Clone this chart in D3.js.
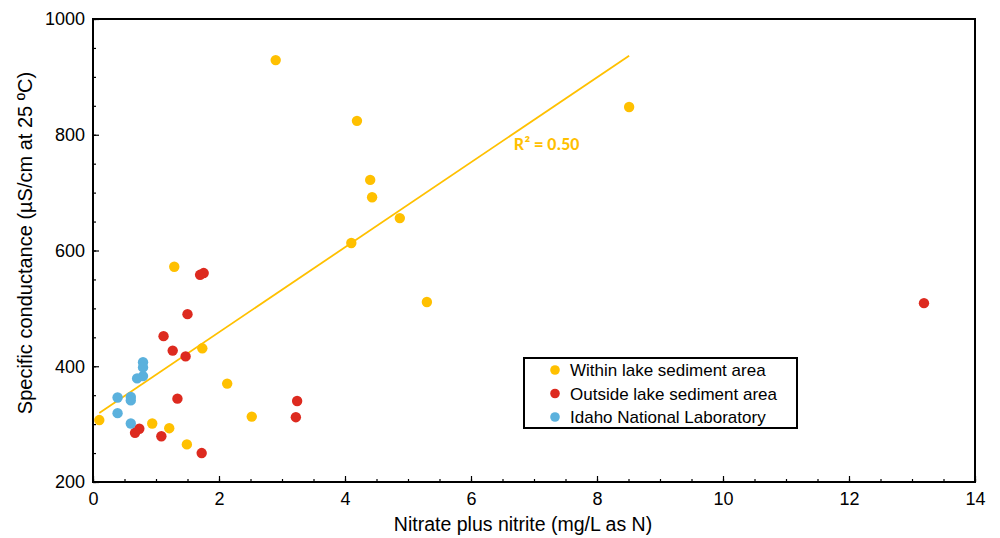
<!DOCTYPE html>
<html><head><meta charset="utf-8">
<script src="https://cdn.jsdelivr.net/npm/d3@7"></script>
<style>body{margin:0;background:#fff}svg{display:block}</style>
</head><body>
<script>
const xTicks=[0,2,4,6,8,10,12,14];
const yTicks=[200,400,600,800,1000];
const seriesNames=["Within lake sediment area","Outside lake sediment area","Idaho National Laboratory"];
const seriesColors=["#FFC000","#DD2A1F","#5BB1DD"];
const withinX=[0.1,2.9,4.19,4.4,4.43,4.87,4.1,8.51,5.3,1.29,1.735,2.13,2.52,0.94,1.21,1.49];
const withinY=[307,929,824,722,692,656,613,848,511,572,431,370,313,301,293,265];
const outsideX=[1.70,1.757,1.50,1.12,1.265,1.47,1.34,0.735,0.667,1.085,1.725,3.24,3.22,13.19];
const outsideY=[558,561,490,452,427,417,344,292,285,279,250,340,312,509];
const inlX=[0.794,0.794,0.794,0.70,0.39,0.60,0.60,0.39,0.60];
const inlY=[407,398,383,379,346,347,341,319,301];
const trendSlope=73.4, trendIntercept=312, trendXRange=[0.1,8.51];
const r2Label="R² = 0.50";

const W=1000,H=538;
const m={l:93,r:25,t:19,b:56};
const svg=d3.select("body").append("svg").attr("width",W).attr("height",H);
const x=d3.scaleLinear().domain([0,14]).range([m.l,W-m.r]);
const y=d3.scaleLinear().domain([200,1000]).range([H-m.b,m.t]);
const font="Liberation Sans, Arial, sans-serif";

// axes with inward ticks
const gx=svg.append("g").attr("transform",`translate(0,${H-m.b})`)
  .call(d3.axisBottom(x).tickValues(d3.range(0,14.01,0.5)).tickSize(-3).tickFormat(""));
gx.call(g=>g.select(".domain").remove());
gx.selectAll("line").attr("stroke","#000").attr("stroke-width",1.2);
const gx2=svg.append("g").attr("transform",`translate(0,${H-m.b})`)
  .call(d3.axisBottom(x).tickValues(xTicks).tickSize(-6).tickPadding(10).tickFormat(d3.format("d")));
gx2.select(".domain").remove();
gx2.selectAll("line").attr("stroke","#000").attr("stroke-width",1.2);
gx2.selectAll("text").attr("font-family",font).attr("font-size",18).attr("fill","#000");

const gy=svg.append("g").attr("transform",`translate(${m.l},0)`)
  .call(d3.axisLeft(y).tickValues(d3.range(200,1000.1,50)).tickSize(-3).tickFormat(""));
gy.select(".domain").remove();
gy.selectAll("line").attr("stroke","#000").attr("stroke-width",1.2);
const gy2=svg.append("g").attr("transform",`translate(${m.l},0)`)
  .call(d3.axisLeft(y).tickValues(yTicks).tickSize(-6).tickPadding(8).tickFormat(d3.format("d")));
gy2.select(".domain").remove();
gy2.selectAll("line").attr("stroke","#000").attr("stroke-width",1.2);
gy2.selectAll("text").attr("font-family",font).attr("font-size",18).attr("fill","#000");

// frame
svg.append("rect").attr("x",m.l).attr("y",m.t).attr("width",W-m.r-m.l).attr("height",H-m.b-m.t)
  .attr("fill","none").attr("stroke","#000").attr("stroke-width",2);

// trend line
svg.append("line")
  .attr("x1",x(trendXRange[0])).attr("y1",y(trendIntercept+trendSlope*trendXRange[0]))
  .attr("x2",x(trendXRange[1])).attr("y2",y(trendIntercept+trendSlope*trendXRange[1]))
  .attr("stroke",seriesColors[0]).attr("stroke-width",1.8);

const series=[[withinX,withinY],[outsideX,outsideY],[inlX,inlY]];
series.forEach(([xs,ys],i)=>{
  svg.append("g").selectAll("circle").data(xs.map((v,j)=>[v,ys[j]])).join("circle")
    .attr("cx",d=>x(d[0])).attr("cy",d=>y(d[1])).attr("r",5.2).attr("fill",seriesColors[i]);
});

svg.append("text").attr("x",514).attr("y",150).text(r2Label)
  .attr("font-family","Carlito, Calibri, Liberation Sans, sans-serif").attr("font-weight","bold")
  .attr("font-size",18).attr("fill",seriesColors[0]);

// legend
const lg=svg.append("g");
lg.append("rect").attr("x",524).attr("y",358).attr("width",273).attr("height",70)
  .attr("fill","#fff").attr("stroke","#000").attr("stroke-width",2);
seriesNames.forEach((n,i)=>{
  const yy=370+i*23.5;
  lg.append("circle").attr("cx",555).attr("cy",yy).attr("r",4.8).attr("fill",seriesColors[i]);
  lg.append("text").attr("x",570).attr("y",yy+6).text(n).attr("font-family",font).attr("font-size",17).attr("fill","#000");
});

// titles
svg.append("text").attr("x",523).attr("y",531).attr("text-anchor","middle")
  .attr("font-family",font).attr("font-size",19.5).text("Nitrate plus nitrite (mg/L as N)");
svg.append("text").attr("transform",`translate(32,243) rotate(-90)`).attr("text-anchor","middle")
  .attr("font-family",font).attr("font-size",20).text("Specific conductance (µS/cm at 25 ºC)");
</script>
</body></html>
